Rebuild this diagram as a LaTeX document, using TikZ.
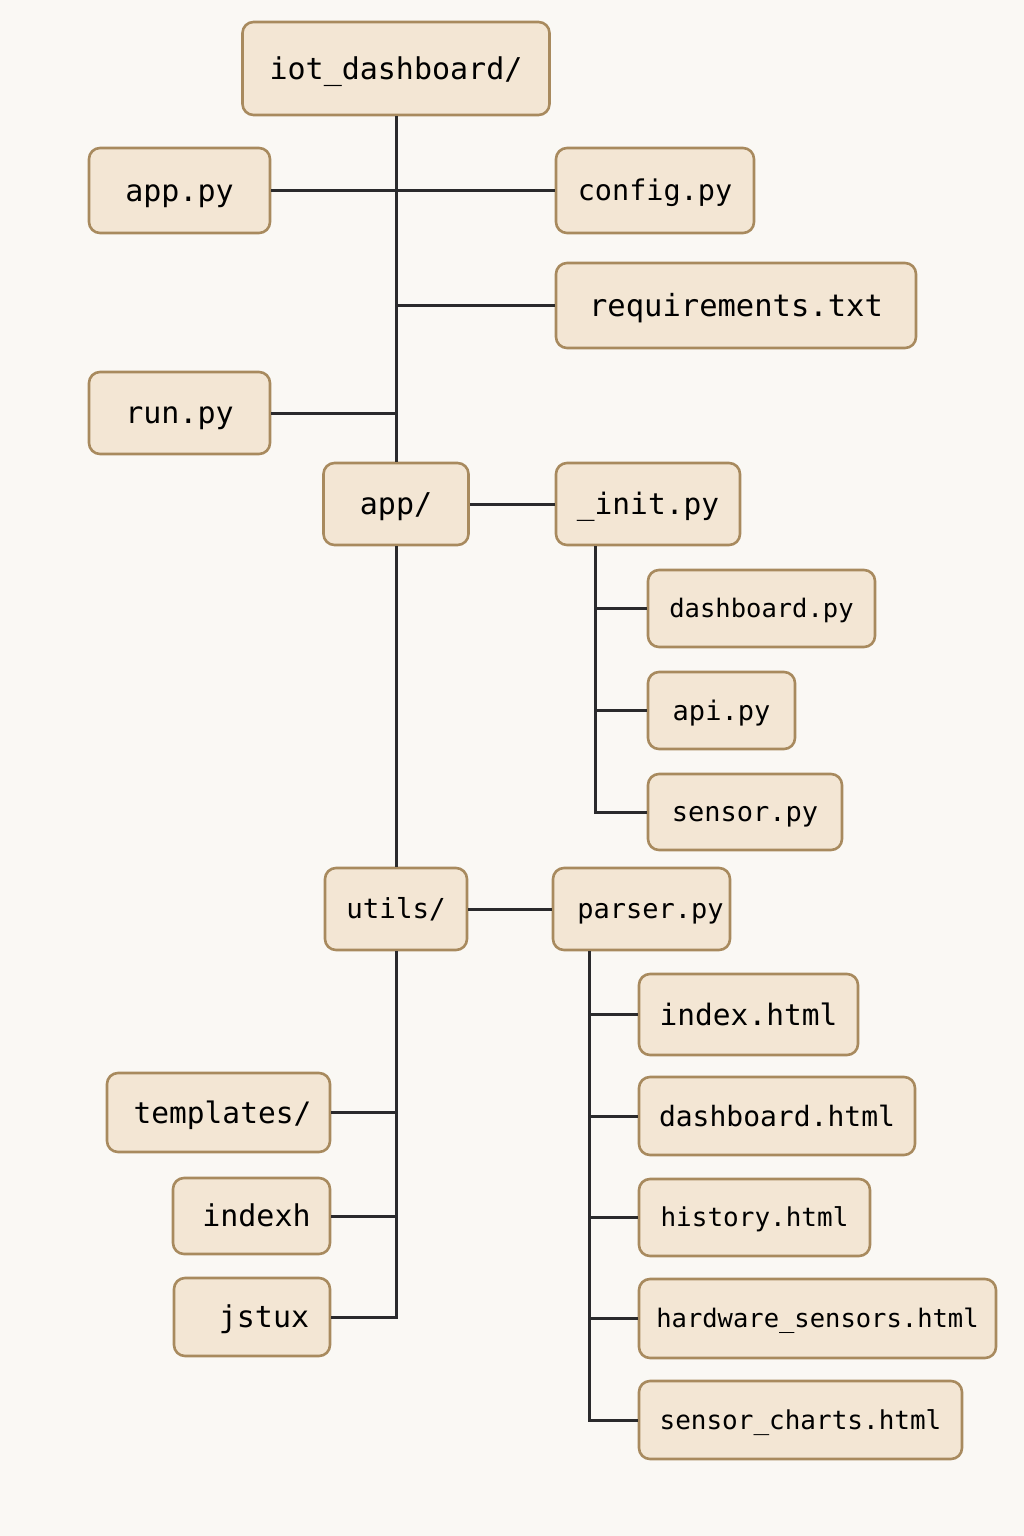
\documentclass[tikz,border=0pt]{standalone}
\usepackage{fontspec}
\setmonofont{DejaVu Sans Mono}
\definecolor{bg}{HTML}{FAF8F4}
\definecolor{boxfill}{HTML}{F3E6D4}
\definecolor{boxdraw}{HTML}{A88A5E}
\definecolor{wire}{HTML}{2A2A2C}
\tikzset{
  filebox/.style={draw=boxdraw, fill=boxfill, line width=2.6pt, rounded corners=11pt,
    inner sep=0pt, text=black, anchor=center},
  fs/.code={\pgfmathsetmacro\fbth{0.78*#1}\pgfmathsetmacro\fbtd{0.06*#1}%
    \edef\fbtmp{\noexpand\tikzset{text height=\fbth pt, text depth=\fbtd pt}}\fbtmp
    \tikzset{font=\fontsize{#1}{#1}\selectfont\ttfamily}},
  wireline/.style={draw=wire, line width=3pt}
}
\begin{document}
\begin{tikzpicture}[x=1pt,y=-1pt]
\fill[bg] (0,0) rectangle (1024,1536);
\useasboundingbox (0,0) rectangle (1024,1536);

% nodes
\node[filebox, fs=30, minimum width=307, minimum height=93] (root) at (396,68.5) {iot\_dashboard/};
\node[filebox, fs=30, minimum width=181, minimum height=85] (apppy) at (179.5,190.5) {app.py};
\node[filebox, fs=28.5, minimum width=198, minimum height=85] (config) at (655,190.5) {config.py};
\node[filebox, fs=30.5, minimum width=360, minimum height=85] (req) at (736,305.5) {requirements.txt};
\node[filebox, fs=30, minimum width=181, minimum height=82] (runpy) at (179.5,413) {run.py};
\node[filebox, fs=30, minimum width=145, minimum height=82] (appdir) at (396,504) {app/};
\node[filebox, fs=29.5, minimum width=184, minimum height=82] (init) at (648,504) {\_init.py};
\node[filebox, fs=25.5, minimum width=227, minimum height=77] (dashpy) at (761.5,608.5) {dashboard.py};
\node[filebox, fs=27, minimum width=147, minimum height=77] (api) at (721.5,710.5) {api.py};
\node[filebox, fs=27, minimum width=194, minimum height=76] (sensor) at (745,812) {sensor.py};
\node[filebox, fs=27.5, minimum width=142, minimum height=82] (utils) at (396,909) {utils/};
\node[filebox, fs=27, minimum width=177, minimum height=82] (parser) at (641.5,909) {\hspace{18pt}parser.py};
\node[filebox, fs=29.5, minimum width=219, minimum height=81] (indexhtml) at (748.5,1014.5) {index.html};
\node[filebox, fs=28, minimum width=276, minimum height=78] (dashhtml) at (777,1116) {dashboard.html};
\node[filebox, fs=26, minimum width=231, minimum height=77] (history) at (754.5,1217.5) {history.html};
\node[filebox, fs=25.5, minimum width=357, minimum height=79] (hardware) at (817.5,1318.5) {hardware\_sensors.html};
\node[filebox, fs=26, minimum width=323, minimum height=78] (charts) at (800.5,1420) {sensor\_charts.html};
\node[filebox, fs=29.5, minimum width=223, minimum height=79] (templates) at (218.5,1112.5) {\hspace{8pt}templates/};
\node[filebox, fs=30, minimum width=157, minimum height=76] (indexh) at (251.5,1216) {\hspace{10pt}indexh};
\node[filebox, fs=30, minimum width=156, minimum height=78] (jstux) at (252,1317) {\hspace{24pt}jstux};

% bus coordinates
\coordinate (initbus) at ([xshift=41pt]init.south west);
\coordinate (parserbus) at ([xshift=38pt]parser.south west);

% connectors
\begin{scope}[wireline]
\draw (root.south) -- (appdir.north);
\draw (appdir.south) -- (utils.north);
\draw (apppy.east) -- (config.west);
\draw (root.south |- req.west) -- (req.west);
\draw (runpy.east) -- (runpy.east -| root.south);
\draw (appdir.east) -- (init.west);
\draw (utils.east) -- (parser.west);
% init bus
\draw (initbus) |- (sensor.west);
\draw (initbus |- dashpy.west) -- (dashpy.west);
\draw (initbus |- api.west) -- (api.west);
% parser bus
\draw (parserbus) |- (charts.west);
\draw (parserbus |- indexhtml.west) -- (indexhtml.west);
\draw (parserbus |- dashhtml.west) -- (dashhtml.west);
\draw (parserbus |- history.west) -- (history.west);
\draw (parserbus |- hardware.west) -- (hardware.west);
% utils bus
\draw (utils.south) |- (jstux.east);
\draw (templates.east) -- (templates.east -| utils.south);
\draw (indexh.east) -- (indexh.east -| utils.south);
\end{scope}
\end{tikzpicture}
\end{document}
